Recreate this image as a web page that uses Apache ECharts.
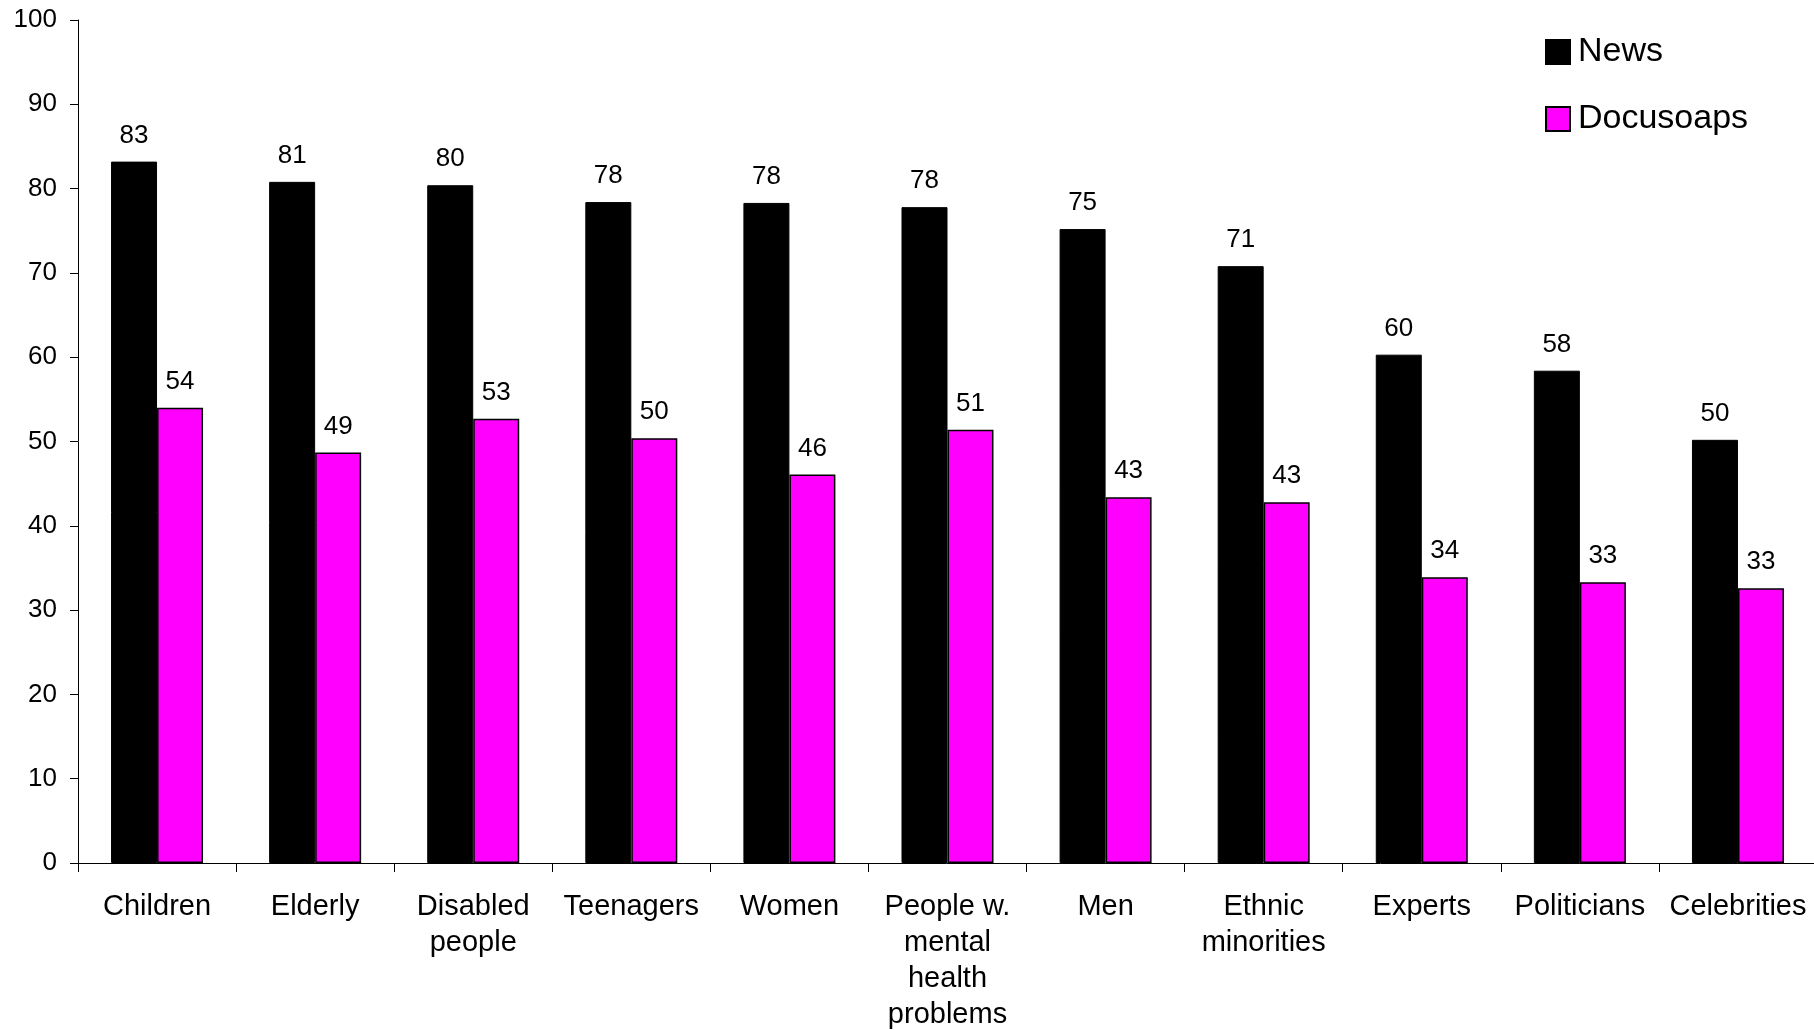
<!DOCTYPE html>
<html>
<head>
<meta charset="utf-8">
<script src="https://cdn.jsdelivr.net/npm/echarts@6/dist/echarts.min.js"></script>
<style>
html,body{margin:0;padding:0;background:#fff;}
#chart{width:1814px;height:1030px;}
</style>
</head>
<body>
<div id="chart"></div>
<script>
const categories = ["Children", "Elderly", "Disabled\npeople", "Teenagers", "Women", "People w.\nmental\nhealth\nproblems", "Men", "Ethnic\nminorities", "Experts", "Politicians", "Celebrities"];
const newsValues = [83.2, 80.8, 80.4, 78.4, 78.3, 77.8, 75.2, 70.8, 60.3, 58.4, 50.2];
const docusoapValues = [54.0, 48.7, 52.7, 50.4, 46.1, 51.4, 43.4, 42.8, 33.9, 33.3, 32.6];
const yTicks = {min: 0, max: 100, interval: 10};

const font = '"Liberation Sans", Arial, sans-serif';
const chart = echarts.init(document.getElementById('chart'), null, {renderer: 'canvas'});
chart.setOption({
  animation: false,
  backgroundColor: '#fff',
  textStyle: {fontFamily: font, color: '#000'},
  grid: {left: 78, right: -3, top: 20, bottom: 167, containLabel: false, outerBoundsMode: 'none'},
  legend: {
    orient: 'vertical',
    left: 1545,
    top: 35,
    padding: 0,
    itemWidth: 24,
    itemHeight: 24,
    itemGap: 33,
    icon: 'rect',
    textStyle: {fontSize: 34, lineHeight: 24, fontFamily: font, color: '#000', padding: [0, 0, 0, 3]},
    data: ['News', 'Docusoaps']
  },
  xAxis: {
    type: 'category',
    data: categories,
    axisLine: {lineStyle: {color: '#000', width: 1}},
    axisTick: {show: true, length: 9, alignWithLabel: false, lineStyle: {color: '#000'}},
    axisLabel: {fontSize: 29, lineHeight: 36, color: '#000', fontFamily: font, margin: 26, interval: 0}
  },
  yAxis: {
    type: 'value',
    min: yTicks.min, max: yTicks.max, interval: yTicks.interval,
    splitLine: {show: false},
    axisLine: {show: true, lineStyle: {color: '#000', width: 1}},
    axisTick: {show: true, length: 8, lineStyle: {color: '#000'}},
    axisLabel: {fontSize: 26, color: '#000', fontFamily: font, margin: 21}
  },
  series: [
    {
      name: 'News', type: 'bar', data: newsValues,
      barWidth: 46, barGap: '0%',
      itemStyle: {color: '#000', borderColor: '#000', borderWidth: 1},
      label: {show: true, position: 'top', distance: 13, fontSize: 26, color: '#000', fontFamily: font,
              formatter: p => Math.round(p.value)}
    },
    {
      name: 'Docusoaps', type: 'bar', data: docusoapValues,
      barWidth: 46, barGap: '0%',
      itemStyle: {color: '#ff00ff', borderColor: '#000', borderWidth: 1.5},
      label: {show: true, position: 'top', distance: 13, fontSize: 26, color: '#000', fontFamily: font,
              formatter: p => Math.round(p.value)}
    }
  ]
});
</script>
</body>
</html>
